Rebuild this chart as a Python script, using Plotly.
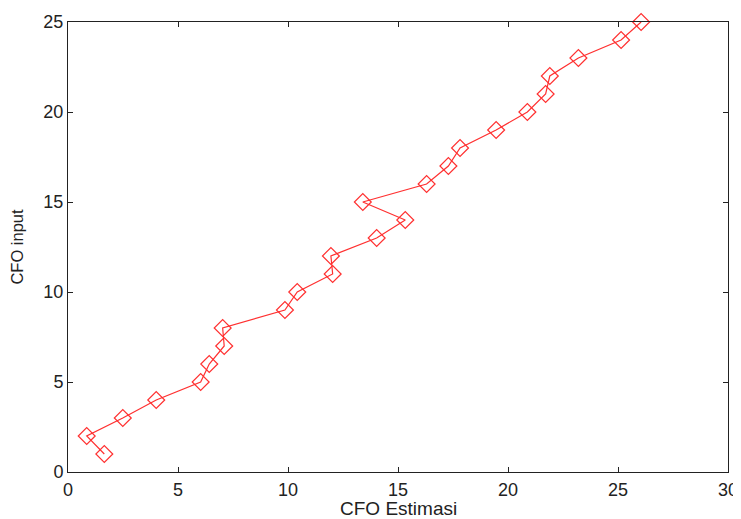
import plotly.graph_objects as go

cfo_estimasi = [1.65, 0.85, 2.49, 4.01, 6.03, 6.42, 7.10, 7.03, 9.86, 10.42,
                12.03, 11.95, 14.03, 15.33, 13.40, 16.30, 17.29, 17.82, 19.46, 20.88,
                21.71, 21.90, 23.20, 25.14, 26.05]
cfo_input = list(range(1, 26))

x_ticks = [0, 5, 10, 15, 20, 25, 30]
y_ticks = [0, 5, 10, 15, 20, 25]
x_title = "CFO Estimasi"
y_title = "CFO input"

FONT = "Liberation Sans, Arial, sans-serif"
TXT = "#222222"

fig = go.Figure()
fig.add_trace(go.Scatter(
    x=cfo_estimasi, y=cfo_input, mode="lines+markers",
    line=dict(color="#ff3030", width=1.2),
    marker=dict(symbol="diamond-open", size=13, color="#ff3030", line=dict(width=1.2)),
    cliponaxis=False, showlegend=False,
))

axis_common = dict(
    showgrid=False, zeroline=False, showline=True, linecolor=TXT, linewidth=1,
    mirror="ticks", ticks="inside", ticklen=5, tickcolor=TXT, automargin=False,
    tickfont=dict(family=FONT, size=18, color=TXT),
)
fig.update_xaxes(range=[0, 30], tickvals=x_ticks, ticklabelstandoff=1, **axis_common)
fig.update_yaxes(range=[0, 25], tickvals=y_ticks,
                 title=dict(text=y_title, standoff=16,
                            font=dict(family=FONT, size=16.5, color=TXT)),
                 **axis_common)
fig.add_annotation(text=x_title, xref="paper", yref="paper", x=0.5, y=0,
                   xanchor="center", yanchor="middle", yshift=-36, showarrow=False,
                   font=dict(family=FONT, size=19, color=TXT))
fig.update_layout(
    width=741, height=519,
    margin=dict(l=60, r=21, t=14, b=55, autoexpand=False),
    paper_bgcolor="white", plot_bgcolor="white",
)
fig.write_html("out.html")
